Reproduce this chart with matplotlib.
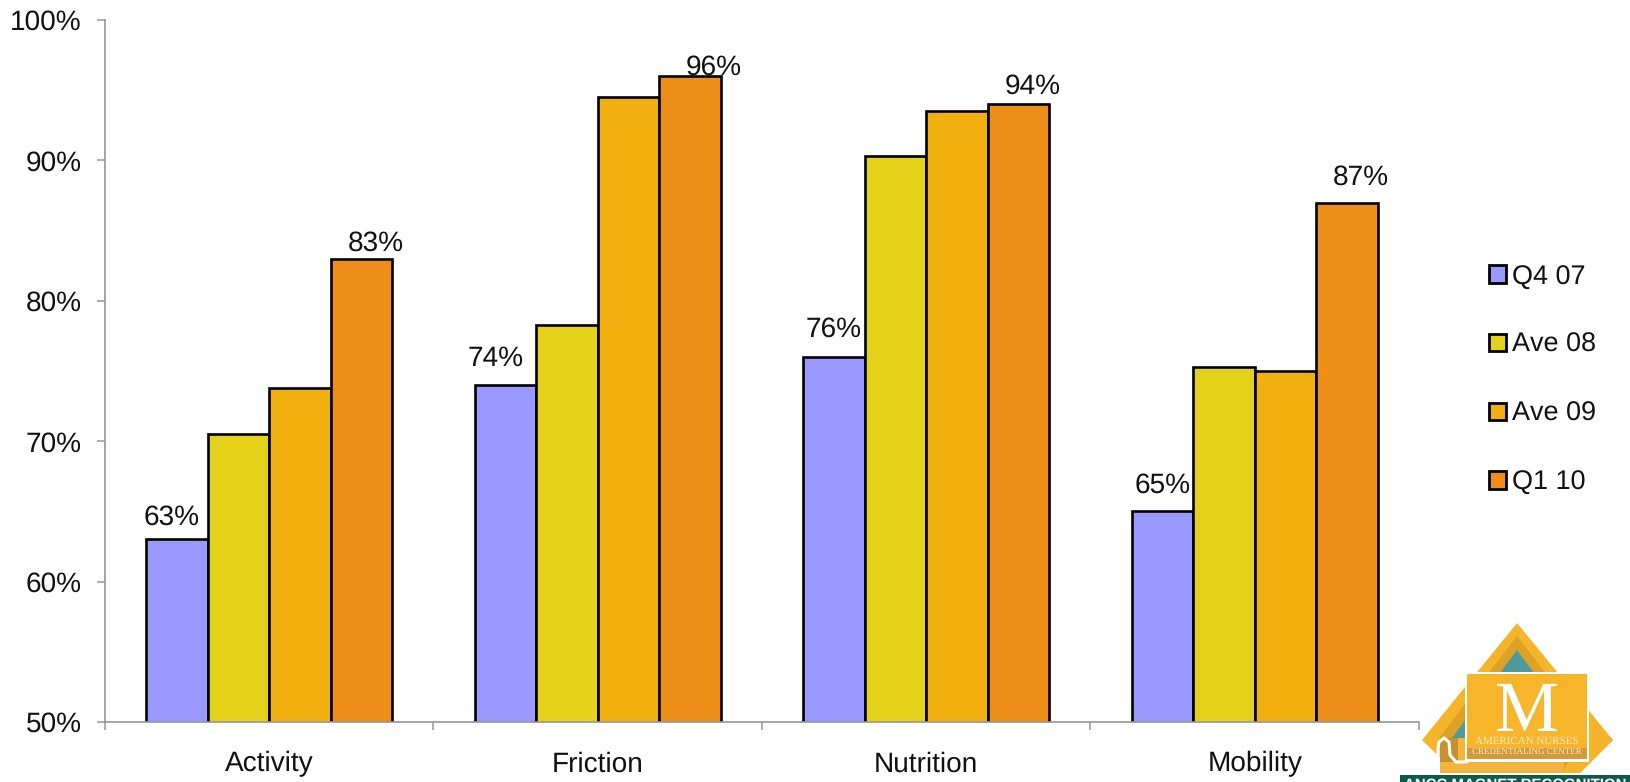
"""Grouped bar chart of skin assessment scores with the ANCC logo in the corner."""
import matplotlib

matplotlib.use("Agg")
import matplotlib.pyplot as plt
from matplotlib.patches import Polygon, Rectangle

plt.rcParams["font.family"] = ["Liberation Sans", "DejaVu Sans"]
plt.rcParams["text.hinting"] = "no_hinting"
plt.rcParams["text.hinting_factor"] = 1

CATEGORIES = ["Activity", "Friction", "Nutrition", "Mobility"]
Q4_07 = [63, 74, 76, 65]
AVE_08 = [70.5, 78.3, 90.3, 75.3]
AVE_09 = [73.8, 94.5, 93.5, 75]
Q1_10 = [83, 96, 94, 87]
SERIES = ["Q4 07", "Ave 08", "Ave 09", "Q1 10"]
Y_TICKS = [50, 60, 70, 80, 90, 100]

COLORS = ["#9999FF", "#E6D11A", "#F2B010", "#EC8E17"]
GREY = "#969696"
FONT = 20
W, H = 1631, 782
BAR_W = 0.1875

# the original labels were nudged by hand, offsets in pixels from the bar top centre
Q4_OFFSETS = [(-5, 22), (-10, 26), (0, 27), (0, 26)]
Q1_OFFSETS = [(14, 15), (24, 9), (14, 18), (14, 25)]


def draw_logo(fig):
    ax = fig.add_axes([0, 0, 1, 1], zorder=5)
    ax.set_xlim(0, W)
    ax.set_ylim(H, 0)
    ax.axis("off")
    ax.patch.set_alpha(0)

    ax.add_patch(Polygon([(1517, 623), (1613, 740), (1578, 775), (1458, 775), (1422, 740)], color="#F5B52B", lw=0))
    ax.add_patch(Polygon([(1517, 636), (1595, 738), (1560, 775), (1470, 775), (1439, 738)], color="#DDA126", lw=0))
    ax.add_patch(Polygon([(1517, 650), (1582, 738), (1550, 775), (1480, 775), (1452, 738)], color="#4F9A9C", lw=0))
    ax.add_patch(Polygon([(1590, 716), (1613, 740), (1578, 775), (1562, 775)], color="#F5B52B", lw=0))

    ax.add_patch(Rectangle((1440, 738), 124, 37, color="#F2B640", lw=0))
    ax.add_patch(Rectangle((1440, 738), 18, 24, color="#C4922F", lw=0))
    ax.plot([1467, 1456, 1450, 1449, 1444, 1439, 1438, 1438], [762, 762, 755, 742, 738, 742, 748, 760],
            color="white", lw=2.2, solid_capstyle="round")

    ax.add_patch(Rectangle((1465, 672), 124, 90, color="white", lw=0))
    ax.add_patch(Rectangle((1467, 674), 120, 85, color="#F7B52C", lw=0))
    ax.add_patch(Rectangle((1467, 748), 120, 11, color="#D29A3A", lw=0))

    ax.text(1527, 731, "M", family="Liberation Serif", fontsize=52, color="white", ha="center", va="baseline")
    ax.text(1527, 744, "AMERICAN NURSES", family="Liberation Serif", fontsize=8.0, color="#FBEBC8",
            ha="center", va="baseline")
    ax.text(1527, 755, "CREDENTIALING CENTER", family="Liberation Serif", fontsize=6.4, color="#FBEBC8",
            ha="center", va="baseline")

    ax.add_patch(Rectangle((1400, 773), 231, 9, color="white", lw=0))
    ax.add_patch(Rectangle((1400, 775), 230, 7, color="#0E5A4C", lw=0))
    banner = ax.text(1515, 789, "ANCC MAGNET RECOGNITION", fontsize=11, fontweight="bold",
                     color="white", ha="center", va="baseline")
    banner.set_clip_path(Rectangle((1400, 775), 230, 7, transform=ax.transData))


def main() -> None:
    fig = plt.figure(figsize=(W / 100, H / 100), dpi=100)
    ax = fig.add_axes([105 / W, 1 - 722 / H, (1419 - 105) / W, (722 - 20) / H])

    all_series = [Q4_07, AVE_08, AVE_09, Q1_10]
    containers = []
    for j, values in enumerate(all_series):
        xs = [i + 0.125 + j * BAR_W for i in range(len(CATEGORIES))]
        bars = ax.bar(xs, values, BAR_W, align="edge", color=COLORS[j], edgecolor="black",
                      linewidth=1.9, label=SERIES[j], zorder=2)
        containers.append(bars)

    for bars, values, offsets in [(containers[0], Q4_07, Q4_OFFSETS), (containers[3], Q1_10, Q1_OFFSETS)]:
        for bar, val, off in zip(bars, values, offsets):
            ax.annotate(f"{val}%", (bar.get_x() + bar.get_width() / 2, val), xytext=off,
                        textcoords="offset pixels", ha="center", va="center",
                        fontsize=FONT, color="#111111", zorder=4)

    ax.set_xlim(0, 4)
    ax.set_ylim(50, 100)
    ax.set_yticks(Y_TICKS)
    ax.set_yticklabels([f"{t}%" for t in Y_TICKS], fontsize=FONT, color="#111111")
    ax.set_xticks(range(5))
    ax.set_xticklabels([])
    ax.set_xticks([i + 0.5 for i in range(4)], CATEGORIES, minor=True, fontsize=FONT, color="#111111")
    ax.tick_params(axis="x", which="minor", length=0, pad=21)
    ax.tick_params(axis="x", which="major", length=5.8, width=1.1, color=GREY)
    ax.tick_params(axis="y", length=5.8, width=1.1, color=GREY, pad=11)

    ax.spines["top"].set_visible(False)
    ax.spines["right"].set_visible(False)
    ax.spines["left"].set_color(GREY)
    ax.spines["bottom"].set_color(GREY)
    ax.spines["left"].set_linewidth(1.2)
    ax.spines["bottom"].set_linewidth(1.2)
    ax.spines["bottom"].set_zorder(3)

    leg = ax.legend(loc="center left", bbox_to_anchor=(1489 / W, 1 - 379.5 / H),
                    bbox_transform=fig.transFigure, frameon=False, fontsize=19.3,
                    labelspacing=1.62, handlelength=0.62, handleheight=0.62,
                    handletextpad=0.22, borderpad=0, borderaxespad=0)
    for text in leg.get_texts():
        text.set_color("#111111")
    for handle in leg.get_patches():
        handle.set_linewidth(2.0)

    draw_logo(fig)
    fig.savefig("out.png", dpi=100)


if __name__ == "__main__":
    main()
